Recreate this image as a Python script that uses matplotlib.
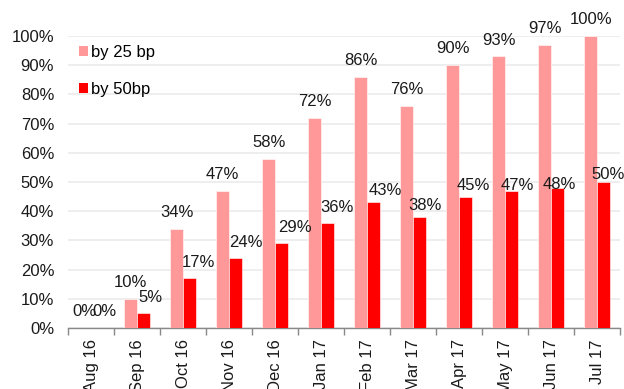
import matplotlib
matplotlib.use("Agg")
import matplotlib.pyplot as plt
import numpy as np
from matplotlib.patches import Patch

categories = ["Aug 16", "Sep 16", "Oct 16", "Nov 16", "Dec 16", "Jan 17",
              "Feb 17", "Mar 17", "Apr 17", "May 17", "Jun 17", "Jul 17"]
by25 = [0, 10, 34, 47, 58, 72, 86, 76, 90, 93, 97, 100]
by50 = [0, 5, 17, 24, 29, 36, 43, 38, 45, 47, 48, 50]
yticks = [0, 10, 20, 30, 40, 50, 60, 70, 80, 90, 100]

# label placement (pixels) for the "by 50bp" data labels, as placed in the source chart
red_dx_px = [6.5, 7, 9, 10, 13, 9.5, 11.7, 5.3, 7.7, 6, 2, 4.5]
red_dy_px = [12, 11.7, 11.7, 10.7, 11.6, 11, 7.7, 7.3, 6.7, 1, -1.6, 3.3]

plt.rcParams['font.family'] = ['Liberation Sans', 'DejaVu Sans']
PINK = "#FF9999"
RED = "#FF0000"
TXT = "#1a1a1a"

fig = plt.figure(figsize=(6.24, 3.89), dpi=100)
ax = fig.add_axes([0.109, 0.157, 0.885, 0.7505])

x = np.arange(len(categories))
w = 0.28
ax.bar(x - w / 2, by25, width=w, color=PINK, edgecolor="white", linewidth=0.4, zorder=3)
ax.bar(x + w / 2, by50, width=w, color=RED, edgecolor="white", linewidth=0.4, zorder=3)

px2pt = 0.72
for xi, v in zip(x, by25):
    ax.annotate(f"{v}%", (xi - w / 2, v), xytext=(0, 11.7 * px2pt), textcoords="offset points",
                ha="center", va="baseline", fontsize=12, color=TXT, annotation_clip=False, zorder=5)
for xi, v, dx, dy in zip(x, by50, red_dx_px, red_dy_px):
    ax.annotate(f"{v}%", (xi + w / 2, v), xytext=(dx * px2pt, dy * px2pt), textcoords="offset points",
                ha="center", va="baseline", fontsize=12, color=TXT, annotation_clip=False, zorder=5)

ax.set_ylim(0, 100)
ax.set_xlim(-0.5, len(categories) - 0.5)
ax.set_yticks(yticks)
ax.set_yticklabels([f"{t}%" for t in yticks], fontsize=12, color=TXT)
ax.tick_params(axis="y", length=0, pad=10)
ax.yaxis.grid(True, color="#ebebeb", linewidth=1.2, zorder=0)
ax.set_axisbelow(True)

ax.set_xticks(x)
ax.set_xticklabels(categories, rotation=90, fontsize=12, color=TXT)
ax.set_xticks(np.arange(-0.5, len(categories), 1.0), minor=True)
ax.tick_params(axis="x", which="major", length=0, pad=8)
ax.tick_params(axis="x", which="minor", length=5, color="#888888", width=1)

for s in ["top", "right", "left"]:
    ax.spines[s].set_visible(False)
ax.spines["bottom"].set_color("#888888")
ax.spines["bottom"].set_linewidth(1)

handles = [Patch(facecolor=PINK, edgecolor="none"), Patch(facecolor=RED, edgecolor="none")]
ax.legend(handles, ["by 25 bp", "by 50bp"], loc="upper left", bbox_to_anchor=(-0.002, 1.01),
          frameon=False, fontsize=12, handlelength=0.55, handleheight=0.55,
          handletextpad=0.2, labelspacing=1.33, borderaxespad=0.3)

fig.savefig("out.png", dpi=100)
